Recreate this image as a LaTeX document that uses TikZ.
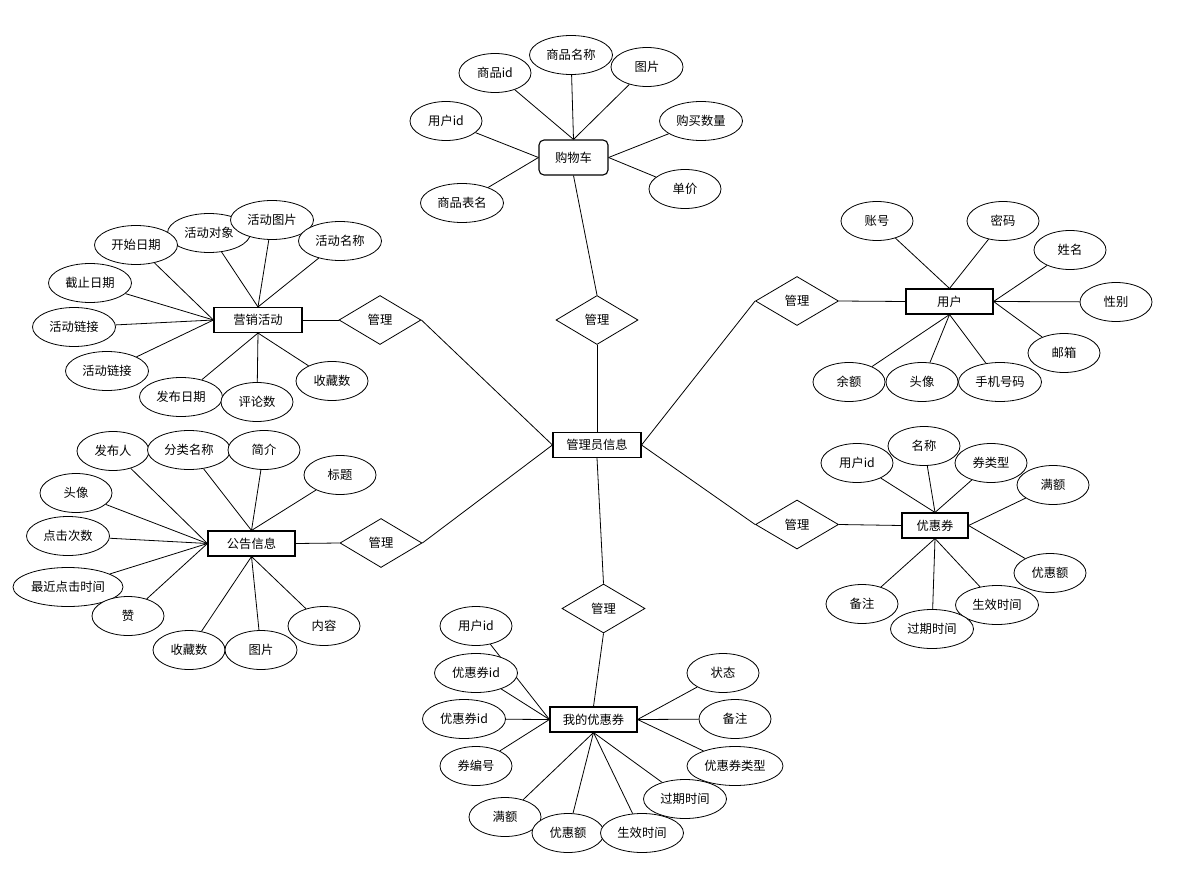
\documentclass[tikz,border=0pt]{standalone}
\usepackage{fontspec}
\newfontfamily\cjk{Noto Sans CJK SC}
\usetikzlibrary{shapes.geometric,backgrounds}
\begin{document}
\begin{tikzpicture}[x=1pt,y=-1pt,
  every node/.style={font=\cjk\fontsize{12.3}{14}\selectfont},
  attr/.style={ellipse,draw,fill=white,inner sep=0pt,minimum width=72pt,minimum height=39pt,line width=0.8pt},
  attrw/.style={attr,minimum width=83pt},
  ent/.style={rectangle,draw,fill=white,inner sep=0pt,minimum width=88pt,minimum height=25pt,line width=1.1pt},
  rel/.style={diamond,draw,fill=white,inner sep=0pt,minimum width=82pt,minimum height=49pt,line width=0.8pt},
  lk/.style={line width=0.8pt}]
\useasboundingbox (0,0) rectangle (1188,869);

% central
\node[ent] (admin) at (597,445) {管理员信息};

% cart
\node[ent,minimum width=69pt,minimum height=35pt,rounded corners=5pt] (cart) at (573.5,157.5) {购物车};
\node[rel] (r1) at (597,320) {管理};
\node[attrw] (c2) at (571,55) {商品名称};
\node[attr] (c1) at (495,73) {商品id};
\node[attr] (c3) at (647,67) {图片};
\node[attr] (c4) at (446,121) {用户id};
\node[attrw] (c5) at (701,121) {购买数量};
\node[attrw] (c6) at (462,203) {商品表名};
\node[attr] (c7) at (685,189) {单价};

% marketing
\node[ent] (mk) at (258,320) {营销活动};
\node[rel] (r2) at (380,320) {管理};
\node[attrw] (m1) at (209,233) {活动对象};
\node[attrw] (m2) at (272,220) {活动图片};
\node[attrw] (m3) at (136,245) {开始日期};
\node[attrw] (m4) at (340,241) {活动名称};
\node[attrw] (m5) at (90,283) {截止日期};
\node[attrw] (m6) at (74,327) {活动链接};
\node[attrw] (m7) at (107,371) {活动链接};
\node[attrw] (m8) at (181,397) {发布日期};
\node[attr] (m9) at (257,402) {评论数};
\node[attr] (m10) at (332,381) {收藏数};

% notice
\node[ent,minimum width=87pt] (nt) at (251.5,543.5) {公告信息};
\node[rel] (r3) at (381,543) {管理};
\node[attr] (n1) at (113,451) {发布人};
\node[attrw] (n2) at (189,450) {分类名称};
\node[attr] (n3) at (264,450) {简介};
\node[attr] (n4) at (340,475) {标题};
\node[attr] (n5) at (76,493) {头像};
\node[attrw] (n6) at (68,536) {点击次数};
\node[attr,minimum width=110pt] (n7) at (68,587) {最近点击时间};
\node[attr] (n8) at (128,616) {赞};
\node[attr] (n9) at (189,650) {收藏数};
\node[attr] (n10) at (261,650) {图片};
\node[attr] (n11) at (324,626) {内容};

% user
\node[ent,minimum width=87pt] (user) at (949.5,301.5) {用户};
\node[rel,minimum width=83pt] (r4) at (797,301) {管理};
\node[attr] (u1) at (877,221) {账号};
\node[attr] (u2) at (1003,221) {密码};
\node[attr] (u3) at (1070,250) {姓名};
\node[attr] (u4) at (1116,302) {性别};
\node[attr] (u5) at (1064,353) {邮箱};
\node[attr] (u6) at (849,382) {余额};
\node[attr] (u7) at (922,382) {头像};
\node[attrw] (u8) at (1000,382) {手机号码};

% coupon
\node[ent,minimum width=66pt] (cp) at (935,525.5) {优惠券};
\node[rel,minimum width=83pt] (r5) at (797,524.5) {管理};
\node[attr] (p1) at (857,463) {用户id};
\node[attr] (p2) at (924,446) {名称};
\node[attr] (p3) at (991,463) {券类型};
\node[attr] (p4) at (1053,485) {满额};
\node[attr] (p5) at (1050,573) {优惠额};
\node[attr] (p6) at (862,604) {备注};
\node[attrw] (p8) at (997,605) {生效时间};
\node[attrw] (p7) at (932,629) {过期时间};

% my coupon
\node[ent,minimum width=87pt] (my) at (593.5,719.5) {我的优惠券};
\node[rel,minimum width=83pt] (r6) at (603.5,608.5) {管理};
\node[attr] (y1) at (476,626) {用户id};
\node[attrw] (y2) at (476,673) {优惠券id};
\node[attrw] (y3) at (464,719) {优惠券id};
\node[attr] (y4) at (476,766) {券编号};
\node[attr] (y5) at (505,817) {满额};
\node[attr] (y6) at (568,833) {优惠额};
\node[attrw] (y7) at (642,833) {生效时间};
\node[attrw] (y8) at (685,799) {过期时间};
\node[attr,minimum width=96pt] (y9) at (735,766) {优惠券类型};
\node[attr] (y10) at (735,719) {备注};
\node[attr] (y11) at (723,673) {状态};

\begin{pgfonlayer}{background}
\fill[white] (0,0) rectangle (1188,869);
% relations
\draw[lk] (r1.north) -- (cart.south);
\draw[lk] (r1.south) -- (admin.north);
\draw[lk] (mk.east) -- (r2.west);
\draw[lk] (r2.east) -- (admin.west);
\draw[lk] (nt.east) -- (r3.west);
\draw[lk] (r3.east) -- (admin.west);
\draw[lk] (r4.east) -- (user.west);
\draw[lk] (r4.west) -- (admin.east);
\draw[lk] (r5.east) -- (cp.west);
\draw[lk] (r5.west) -- (admin.east);
\draw[lk] (admin.south) -- (r6.north);
\draw[lk] (r6.south) -- (my.north);
% cart
\foreach \a in {c1,c2,c3} \draw[lk] (\a) -- (cart.north);
\foreach \a in {c4,c6} \draw[lk] (\a) -- (cart.west);
\foreach \a in {c5,c7} \draw[lk] (\a) -- (cart.east);
% marketing
\foreach \a in {m1,m2,m4} \draw[lk] (\a) -- (mk.north);
\foreach \a in {m3,m5,m6,m7} \draw[lk] (\a) -- (mk.west);
\foreach \a in {m8,m9,m10} \draw[lk] (\a) -- (mk.south);
% notice
\foreach \a in {n2,n3,n4} \draw[lk] (\a) -- (nt.north);
\foreach \a in {n1,n5,n6,n7,n8} \draw[lk] (\a) -- (nt.west);
\foreach \a in {n9,n10,n11} \draw[lk] (\a) -- (nt.south);
% user
\foreach \a in {u1,u2} \draw[lk] (\a) -- (user.north);
\foreach \a in {u3,u4,u5} \draw[lk] (\a) -- (user.east);
\foreach \a in {u6,u7,u8} \draw[lk] (\a) -- (user.south);
% coupon
\foreach \a in {p1,p2,p3} \draw[lk] (\a) -- (cp.north);
\foreach \a in {p4,p5} \draw[lk] (\a) -- (cp.east);
\foreach \a in {p6,p7,p8} \draw[lk] (\a) -- (cp.south);
% my coupon
\foreach \a in {y1,y2,y3,y4} \draw[lk] (\a) -- (my.west);
\foreach \a in {y9,y10,y11} \draw[lk] (\a) -- (my.east);
\foreach \a in {y5,y6,y7,y8} \draw[lk] (\a) -- (my.south);
\end{pgfonlayer}
\end{tikzpicture}
\end{document}
